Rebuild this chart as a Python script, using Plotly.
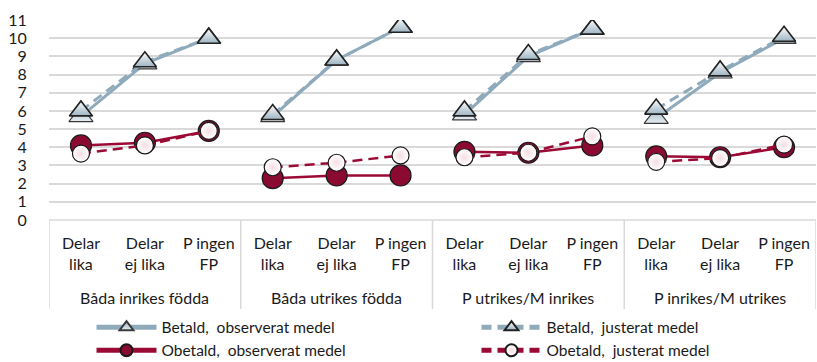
import plotly.graph_objects as go

# Households grouped by parents' country of birth, three leave-sharing categories each
groups = ["Båda inrikes födda", "Båda utrikes födda", "P utrikes/M inrikes", "P inrikes/M utrikes"]
subcats = ["Delar<br>lika", "Delar<br>ej lika", "P ingen<br>FP"]

# Hours per day, one row per group
betald_obs = [[5.7, 8.6, 10.0], [5.7, 8.8, 10.6], [5.8, 9.0, 10.5], [5.6, 8.1, 10.0]]
betald_just = [[6.0, 8.7, 10.0], [5.8, 8.8, 10.6], [6.0, 9.1, 10.5], [6.1, 8.2, 10.1]]
obetald_obs = [[4.1, 4.25, 4.9], [2.3, 2.45, 2.45], [3.75, 3.7, 4.1], [3.5, 3.45, 4.0]]
obetald_just = [[3.65, 4.1, 4.9], [2.9, 3.15, 3.55], [3.45, 3.7, 4.6], [3.2, 3.4, 4.15]]

FONT = "Lato"
BLUE = "#8FAABB"
RED = "#9B0A35"


def series(values):
    """Flatten per-group values onto one x scale, breaking the line between groups."""
    xs, ys = [], []
    for g, row in enumerate(values):
        for i, v in enumerate(row):
            xs.append(g * len(subcats) + i)
            ys.append(v)
        xs.append(None)
        ys.append(None)
    return xs, ys


fig = go.Figure()

specs = [
    ("Betald,  observerat medel", betald_obs, dict(color=BLUE, width=3, dash="solid"),
     dict(symbol="triangle-up", size=21, color="#93AEBF",
          gradient=dict(type="vertical", color="#E8EEF2"),
          line=dict(color="#3A3A3A", width=1.2))),
    ("Betald,  justerat medel", betald_just, dict(color=BLUE, width=3, dash="10px,6px"),
     dict(symbol="triangle-up", size=20, color="#FFFFFF",
          gradient=dict(type="vertical", color="#9DB4C3"),
          line=dict(color="#222222", width=1.6))),
    ("Obetald,  observerat medel", obetald_obs, dict(color=RED, width=2.5, dash="solid"),
     dict(symbol="circle", size=21, color="#8B0A32",
          line=dict(color="#1A1A1A", width=1.2))),
    ("Obetald,  justerat medel", obetald_just, dict(color=RED, width=2.5, dash="10px,6px"),
     dict(symbol="circle", size=17, color="#FFFFFF",
          gradient=dict(type="radial", color="#F4DDE3"),
          line=dict(color="#1A1A1A", width=1.2))),
]

for name, vals, line, marker in specs:
    xs, ys = series(vals)
    fig.add_trace(go.Scatter(x=xs, y=ys, name=name, mode="lines+markers",
                             line=line, marker=marker, connectgaps=False))

n = len(groups) * len(subcats)
tickvals = list(range(n))
ticktext = subcats * len(groups)

# Box lines framing the category axis
for k in range(len(groups) + 1):
    fig.add_shape(type="line", xref="x", yref="paper",
                  x0=k * len(subcats) - 0.5, x1=k * len(subcats) - 0.5,
                  y0=0, y1=-0.445, line=dict(color="#D9D9D9", width=1.5))

for g, label in enumerate(groups):
    fig.add_annotation(x=g * len(subcats) + 1, xref="x", y=-0.385, yref="paper",
                       text=label, showarrow=False, yanchor="middle",
                       font=dict(family=FONT, size=16, color="#1A1A1A"))

fig.update_layout(
    width=817, height=362,
    margin=dict(l=49, r=1, t=20, b=142, autoexpand=False),
    plot_bgcolor="white", paper_bgcolor="white",
    font=dict(family=FONT, size=16, color="#1A1A1A"),
    xaxis=dict(range=[-0.5, n - 0.5], tickvals=tickvals, ticktext=ticktext,
               showgrid=False, zeroline=False, showline=False,
               ticks="outside", ticklen=9, tickcolor="rgba(0,0,0,0)",
               tickfont=dict(family=FONT, size=16, color="#1A1A1A")),
    yaxis=dict(range=[0, 11], dtick=1, tick0=0, showgrid=True,
               gridcolor="#D9D9D9", gridwidth=1.5, zeroline=False,
               showline=False, ticks="outside", ticklen=18,
               tickcolor="rgba(0,0,0,0)",
               tickfont=dict(family=FONT, size=16, color="#1A1A1A")),
    showlegend=True,
    legend=dict(orientation="h", xref="container", yref="container",
                x=0.112, xanchor="left", y=0.142, yanchor="top",
                entrywidth=310, entrywidthmode="pixels", itemwidth=60,
                itemsizing="constant", traceorder="normal",
                font=dict(family=FONT, size=15.5, color="#1A1A1A"),
                bgcolor="rgba(0,0,0,0)", tracegroupgap=0),
)

# Horizontal rule at the top of the category box
fig.add_shape(type="line", xref="paper", yref="paper", x0=0, x1=1, y0=0, y1=0,
              line=dict(color="#D9D9D9", width=1.5))

fig.write_html("out.html")
